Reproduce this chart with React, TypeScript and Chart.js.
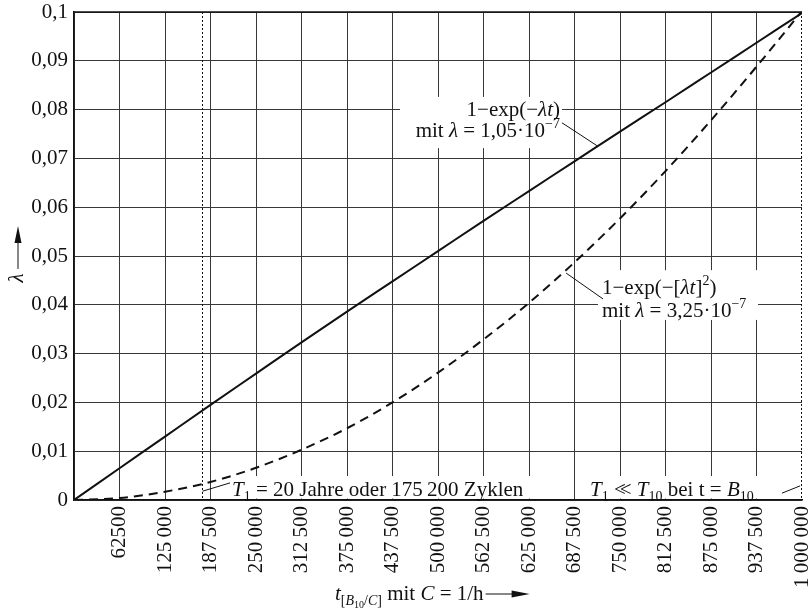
import React, { useEffect, useRef } from 'react';
import { Chart, registerables } from 'chart.js';

Chart.register(...registerables);

// ---- data ----
const tValues = [0, 62500, 125000, 187500, 250000, 312500, 375000, 437500, 500000, 562500, 625000, 687500, 750000, 812500, 875000, 937500, 1000000];
const expLinear = [0, 0.0065, 0.013, 0.0195, 0.0259, 0.0323, 0.0386, 0.0448, 0.051, 0.0572, 0.0633, 0.0694, 0.0755, 0.0815, 0.0876, 0.0937, 0.0998];
const expWeibull = [0, 0.0004, 0.0017, 0.0037, 0.0066, 0.0103, 0.0147, 0.02, 0.0261, 0.0329, 0.0404, 0.0487, 0.0577, 0.0674, 0.0778, 0.0888, 0.1002];
const xTickLabels = ['', '62500', '125\u2009000', '187\u2009500', '250\u2009000', '312\u2009500', '375\u2009000', '437\u2009500', '500\u2009000', '562\u2009500', '625\u2009000', '687\u2009500', '750\u2009000', '812\u2009500', '875\u2009000', '937\u2009500', '1\u2009000\u2009000'];
const yTickValues = [0, 0.01, 0.02, 0.03, 0.04, 0.05, 0.06, 0.07, 0.08, 0.09, 0.1];
const yTickLabels = ['0', '0,01', '0,02', '0,03', '0,04', '0,05', '0,06', '0,07', '0,08', '0,09', '0,1'];
const t1Marker = 175200;
const xMax = 1000000;
const yMax = 0.1;

const SERIF = '"Liberation Serif", "Times New Roman", serif';
const GRID = '#383838';

type Seg = { t: string; i?: boolean; sz?: number; dy?: number; kx?: number };

function segFont(s: Seg, base: number) {
  return `${s.i ? 'italic ' : ''}${s.sz ?? base}px ${SERIF}`;
}

function richWidth(ctx: CanvasRenderingContext2D, segs: Seg[], base: number) {
  let w = 0;
  for (const s of segs) {
    ctx.font = segFont(s, base);
    w += ctx.measureText(s.t).width + (s.kx ?? 0);
  }
  return w;
}

function drawRich(ctx: CanvasRenderingContext2D, segs: Seg[], x: number, y: number, base: number, align: 'left' | 'right' = 'left') {
  const w = richWidth(ctx, segs, base);
  let cx = align === 'right' ? x - w : x;
  ctx.textAlign = 'left';
  ctx.textBaseline = 'alphabetic';
  ctx.fillStyle = '#111';
  for (const s of segs) {
    ctx.font = segFont(s, base);
    cx += s.kx ?? 0;
    ctx.fillText(s.t, cx, y + (s.dy ?? 0));
    cx += ctx.measureText(s.t).width;
  }
  return cx;
}

const SUB = 14;
const ann1a: Seg[] = [{ t: '1\u2212exp(\u2212' }, { t: '\u03bbt', i: true }, { t: ')' }];
const ann1b: Seg[] = [{ t: 'mit ' }, { t: '\u03bb', i: true }, { t: ' = 1,05\u00b710' }, { t: '\u22127', sz: SUB, dy: -9 }];
const ann2a: Seg[] = [{ t: '1\u2212exp(\u2212[' }, { t: '\u03bbt', i: true }, { t: ']' }, { t: '2', sz: SUB, dy: -9 }, { t: ')' }];
const ann2b: Seg[] = [{ t: 'mit ' }, { t: '\u03bb', i: true }, { t: ' = 3,25\u00b710' }, { t: '\u22127', sz: SUB, dy: -9 }];
const noteT1: Seg[] = [{ t: 'T', i: true }, { t: '1', sz: SUB, dy: 5 }, { t: ' = 20 Jahre oder 175\u2009200 Zyklen' }];
const noteT10: Seg[] = [
  { t: 'T', i: true },
  { t: '1', sz: SUB, dy: 5 },
  { t: ' <' },
  { t: '<', kx: -6 },
  { t: ' ' },
  { t: 'T', i: true },
  { t: '10', sz: SUB, dy: 5 },
  { t: ' bei t = ' },
  { t: 'B', i: true },
  { t: '10', sz: SUB, dy: 5 },
];
const xTitle: Seg[] = [
  { t: 't', i: true },
  { t: '[', sz: SUB, dy: 5 },
  { t: 'B', i: true, sz: SUB, dy: 5 },
  { t: '10', sz: 10, dy: 8 },
  { t: '/', sz: SUB, dy: 5 },
  { t: 'C', i: true, sz: SUB, dy: 5 },
  { t: ']', sz: SUB, dy: 5 },
  { t: ' mit ' },
  { t: 'C', i: true },
  { t: ' = 1/h' },
];

const annotationPlugin = {
  id: 'annotations',
  beforeDatasetsDraw(chart: any) {
    const ctx: CanvasRenderingContext2D = chart.ctx;
    const xs = chart.scales.x;
    const ys = chart.scales.y;
    const X = (v: number) => xs.getPixelForValue(v);
    const Y = (v: number) => ys.getPixelForValue(v);
    const ca = chart.chartArea;
    ctx.save();
    // white boxes behind labels
    ctx.fillStyle = '#fff';
    const box = (x0: number, x1: number, y0: number, y1: number) => {
      ctx.fillRect(X(x0), Y(y1), X(x1) - X(x0), Y(y0) - Y(y1));
    };
    box(447800, 670300, 0.0721, 0.0826);
    box(719800, 939600, 0.0369, 0.0471);
    box(211500, 649700, 0.0003, 0.0049);
    box(692300, 962000, 0.0003, 0.0049);
    // top border
    ctx.strokeStyle = '#111';
    ctx.lineWidth = 1.5;
    ctx.beginPath();
    ctx.moveTo(ca.left, Y(yMax));
    ctx.lineTo(X(xMax), Y(yMax));
    ctx.stroke();
    // dotted verticals
    ctx.lineWidth = 1;
    ctx.setLineDash([2, 2]);
    ctx.beginPath();
    ctx.moveTo(Math.round(X(t1Marker)) + 0.5, Y(yMax));
    ctx.lineTo(Math.round(X(t1Marker)) + 0.5, Y(0));
    ctx.moveTo(Math.round(X(xMax)) - 0.5, Y(yMax));
    ctx.lineTo(Math.round(X(xMax)) - 0.5, Y(0));
    ctx.stroke();
    ctx.setLineDash([]);
    ctx.restore();
  },
  afterDatasetsDraw(chart: any) {
    const ctx: CanvasRenderingContext2D = chart.ctx;
    const xs = chart.scales.x;
    const ys = chart.scales.y;
    const X = (v: number) => xs.getPixelForValue(v);
    const Y = (v: number) => ys.getPixelForValue(v);
    const ca = chart.chartArea;
    ctx.save();
    // annotation 1
    drawRich(ctx, ann1a, X(667600), Y(0.0787), 21, 'right');
    drawRich(ctx, ann1b, X(667600), Y(0.0744), 21, 'right');
    // annotation 2
    drawRich(ctx, ann2a, X(725300), Y(0.0422), 21, 'left');
    drawRich(ctx, ann2b, X(725300), Y(0.0375), 21, 'left');
    // bottom notes
    drawRich(ctx, noteT1, X(217000), Y(0.0008), 21, 'left');
    drawRich(ctx, noteT10, X(708800), Y(0.0008), 21, 'left');
    // leader lines
    ctx.strokeStyle = '#111';
    ctx.lineWidth = 1;
    ctx.beginPath();
    ctx.moveTo(X(670300), Y(0.0773));
    ctx.lineTo(X(718400), Y(0.0726));
    ctx.moveTo(X(676000), Y(0.0465));
    ctx.lineTo(X(726700), Y(0.0412));
    ctx.moveTo(X(176500), Y(0.0018));
    ctx.lineTo(X(214300), Y(0.0035));
    ctx.moveTo(X(972500), Y(0.0014));
    ctx.lineTo(X(997500), Y(0.0029));
    ctx.stroke();

    // x axis title
    const titleY = ca.bottom + 100;
    const endX = drawRich(ctx, xTitle, X(358500), titleY, 21, 'left');
    const arrowY = titleY - 6;
    ctx.beginPath();
    ctx.moveTo(endX + 2, arrowY);
    ctx.lineTo(endX + 32, arrowY);
    ctx.stroke();
    ctx.fillStyle = '#111';
    ctx.beginPath();
    ctx.moveTo(endX + 46, arrowY);
    ctx.lineTo(endX + 28, arrowY - 3.5);
    ctx.lineTo(endX + 28, arrowY + 3.5);
    ctx.closePath();
    ctx.fill();

    // y axis title
    const lx = 17;
    const lyc = Y(0.0455);
    ctx.save();
    ctx.translate(lx, lyc);
    ctx.rotate(-Math.PI / 2);
    ctx.font = `italic 21px ${SERIF}`;
    ctx.textAlign = 'center';
    ctx.textBaseline = 'middle';
    ctx.fillText('\u03bb', 0, 0);
    ctx.restore();
    ctx.beginPath();
    ctx.moveTo(lx + 1, lyc - 9);
    ctx.lineTo(lx + 1, lyc - 40);
    ctx.stroke();
    ctx.beginPath();
    ctx.moveTo(lx + 1, lyc - 52);
    ctx.lineTo(lx - 2.5, lyc - 35);
    ctx.lineTo(lx + 4.5, lyc - 35);
    ctx.closePath();
    ctx.fill();
    ctx.restore();
  },
};

export default function App() {
  const ref = useRef<HTMLCanvasElement | null>(null);
  useEffect(() => {
    if (!ref.current) return;
    const chart = new Chart(ref.current, {
      type: 'line',
      data: {
        datasets: [
          {
            label: '1-exp(-λt)',
            data: tValues.map((t, i) => ({ x: t, y: expLinear[i] })),
            borderColor: '#111',
            borderWidth: 2,
            pointRadius: 0,
            cubicInterpolationMode: 'monotone',
            fill: false,
          },
          {
            label: '1-exp(-[λt]^2)',
            data: tValues.map((t, i) => ({ x: t, y: expWeibull[i] })),
            borderColor: '#111',
            borderWidth: 2,
            borderDash: [9, 6],
            pointRadius: 0,
            cubicInterpolationMode: 'monotone',
            fill: false,
          },
        ],
      },
      options: {
        responsive: false,
        animation: false,
        layout: { padding: { top: 12, right: 8, left: 0, bottom: 0 } },
        plugins: { legend: { display: false }, tooltip: { enabled: false } },
        scales: {
          x: {
            type: 'linear',
            min: 0,
            max: xMax,
            afterBuildTicks: (scale: any) => {
              scale.ticks = tValues.map((v) => ({ value: v }));
            },
            afterFit: (scale: any) => {
              scale.height = 112;
              scale.paddingLeft = 0;
              scale.paddingRight = 0;
            },
            ticks: {
              autoSkip: false,
              minRotation: 90,
              maxRotation: 90,
              padding: 6,
              color: '#111',
              font: { family: SERIF, size: 21 },
              callback: (value: any) => {
                const i = tValues.indexOf(Number(value));
                return i >= 0 ? xTickLabels[i] : '';
              },
            },
            grid: {
              drawTicks: false,
              color: (c: any) => (c.tick && c.tick.value === xMax ? 'rgba(0,0,0,0)' : GRID),
              lineWidth: 1,
            },
            border: { display: true, color: '#111', width: 1.5 },
          },
          y: {
            type: 'linear',
            min: 0,
            max: yMax,
            afterBuildTicks: (scale: any) => {
              scale.ticks = yTickValues.map((v) => ({ value: v }));
            },
            afterFit: (scale: any) => {
              scale.width = 74;
              scale.paddingTop = 0;
              scale.paddingBottom = 0;
            },
            ticks: {
              padding: 6,
              color: '#111',
              font: { family: SERIF, size: 21 },
              callback: (value: any) => {
                const i = yTickValues.findIndex((v) => Math.abs(v - Number(value)) < 1e-9);
                return i >= 0 ? yTickLabels[i] : '';
              },
            },
            grid: {
              drawTicks: false,
              color: GRID,
              lineWidth: 1,
            },
            border: { display: true, color: '#111', width: 1.5 },
          },
        },
      },
      plugins: [annotationPlugin],
    });
    return () => chart.destroy();
  }, []);
  return (
    <div style={{ position: 'absolute', left: 0, top: 0, width: 810, height: 612, background: '#fff' }}>
      <canvas ref={ref} width={810} height={612} />
    </div>
  );
}
